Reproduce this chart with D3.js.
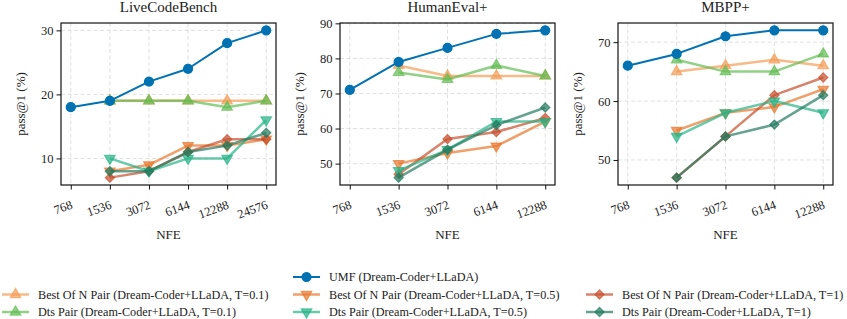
<!DOCTYPE html>
<html><head><meta charset="utf-8">
<script src="https://cdn.jsdelivr.net/npm/d3@7"></script>
<style>
html,body{margin:0;padding:0;background:#fff;}
</style></head>
<body>
<svg id="chart" width="847" height="319"></svg>
<script>
// ---------- DATA ----------
const panels = ["LiveCodeBench", "HumanEval+", "MBPP+"];
const nfeLCB = ["768", "1536", "3072", "6144", "12288", "24576"];
const nfeOther = ["768", "1536", "3072", "6144", "12288"];
const yTicksLCB = [10, 20, 30];
const yTicksHE = [50, 60, 70, 80, 90];
const yTicksMB = [50, 60, 70];

// LiveCodeBench (UMF starts at 768, pairs start at 1536)
const lcbUMF    = [18, 19, 22, 24, 28, 30];
const lcbBoN01  = [null, 19, 19, 19, 19, 19];
const lcbBoN05  = [null, 8, 9, 12, 12, 13];
const lcbBoN1   = [null, 7, 8, 11, 13, 13];
const lcbDts01  = [null, 19, 19, 19, 18, 19];
const lcbDts05  = [null, 10, 8, 10, 10, 16];
const lcbDts1   = [null, 8, 8, 11, 12, 14];

// HumanEval+
const heUMF    = [71, 79, 83, 87, 88];
const heBoN01  = [null, 78, 75, 75, 75];
const heBoN05  = [null, 50, 53, 55, 62];
const heBoN1   = [null, 47, 57, 59, 63];
const heDts01  = [null, 76, 74, 78, 75];
const heDts05  = [null, 48, 54, 62, 62];
const heDts1   = [null, 46, 54, 61, 66];

// MBPP+
const mbUMF    = [66, 68, 71, 72, 72];
const mbBoN01  = [null, 65, 66, 67, 66];
const mbBoN05  = [null, 55, 58, 59, 62];
const mbBoN1   = [null, 47, 54, 61, 64];
const mbDts01  = [null, 67, 65, 65, 68];
const mbDts05  = [null, 54, 58, 60, 58];
const mbDts1   = [null, 47, 54, 56, 61];

const seriesNames = [
  "Best Of N Pair (Dream-Coder+LLaDA, T=0.1)",
  "Best Of N Pair (Dream-Coder+LLaDA, T=0.5)",
  "Best Of N Pair (Dream-Coder+LLaDA, T=1)",
  "Dts Pair (Dream-Coder+LLaDA, T=0.1)",
  "Dts Pair (Dream-Coder+LLaDA, T=0.5)",
  "Dts Pair (Dream-Coder+LLaDA, T=1)",
  "UMF (Dream-Coder+LLaDA)"
];
const seriesColors = ["#F39C55", "#E8782E", "#C8502E", "#62BE52", "#27B386", "#237A5F", "#0072B2"];
const seriesMarkers = ["tri-up", "tri-down", "diamond", "tri-up", "tri-down", "diamond", "circle"];
const seriesAlpha = [0.7, 0.7, 0.7, 0.7, 0.7, 0.7, 1];

const panelData = [
  {title: panels[0], x: nfeLCB, yt: yTicksLCB, s: [lcbBoN01, lcbBoN05, lcbBoN1, lcbDts01, lcbDts05, lcbDts1, lcbUMF]},
  {title: panels[1], x: nfeOther, yt: yTicksHE, s: [heBoN01, heBoN05, heBoN1, heDts01, heDts05, heDts1, heUMF]},
  {title: panels[2], x: nfeOther, yt: yTicksMB, s: [mbBoN01, mbBoN05, mbBoN1, mbDts01, mbDts05, mbDts1, mbUMF]}
];

// ---------- LAYOUT ----------
const FONT = "'Liberation Serif', 'Times New Roman', Times, 'DejaVu Serif', serif";
const svg = d3.select("#chart").attr("font-family", FONT);
const plotLefts = [61, 340, 618];
const plotW = 215;
const plotTop = 23, plotBottom = 185;

function markerPath(type) {
  if (type === "circle") return d3.symbol(d3.symbolCircle, 64)();
  if (type === "tri-up") return d3.symbol(d3.symbolTriangle, 48)();
  if (type === "tri-down") return d3.symbol(d3.symbolTriangle, 48)();
  if (type === "diamond") return d3.symbol(d3.symbolSquare, 42)();
}
function markerRot(type) {
  if (type === "tri-down") return " rotate(180)";
  if (type === "diamond") return " rotate(45)";
  return "";
}

function drawMarker(g, type, color, alpha, x, y) {
  g.append("path")
    .attr("d", markerPath(type))
    .attr("transform", `translate(${x},${y})` + markerRot(type))
    .attr("fill", color).attr("fill-opacity", alpha)
    .attr("stroke", color).attr("stroke-opacity", alpha)
    .attr("stroke-width", 1.2);
}

function styleText(sel, size) {
  sel.attr("font-family", FONT).style("font-family", FONT).attr("font-size", size).attr("fill", "#222");
}

panelData.forEach((p, pi) => {
  const left = plotLefts[pi];
  const g = svg.append("g");
  const n = p.x.length;
  const x = d3.scaleLinear().domain([-0.05 * (n - 1), (n - 1) * 1.05]).range([left, left + plotW]);
  const all = p.s.flat().filter(v => v != null);
  const mn = d3.min(all), mx = d3.max(all), pad = (mx - mn) * 0.05;
  const y = d3.scaleLinear().domain([mn - pad, mx + pad]).range([plotBottom, plotTop]);

  // grid
  const grid = g.append("g").attr("stroke", "#dcdcdc").attr("stroke-width", 0.9).attr("stroke-dasharray", "4,2.5");
  p.x.forEach((_, i) => grid.append("line").attr("x1", x(i)).attr("x2", x(i)).attr("y1", plotTop).attr("y2", plotBottom));
  p.yt.forEach(t => grid.append("line").attr("x1", left).attr("x2", left + plotW).attr("y1", y(t)).attr("y2", y(t)));

  // series
  p.s.forEach((vals, si) => {
    const pts = vals.map((v, i) => [i, v]).filter(d => d[1] != null);
    const line = d3.line().x(d => x(d[0])).y(d => y(d[1]));
    const color = seriesColors[si], a = seriesAlpha[si];
    const sg = g.append("g");
    sg.append("path").attr("d", line(pts)).attr("fill", "none")
      .attr("stroke", color).attr("stroke-opacity", a)
      .attr("stroke-width", si === 6 ? 2 : 2.5).attr("stroke-linejoin", "round");
    pts.forEach(d => drawMarker(sg, seriesMarkers[si], color, a, x(d[0]), y(d[1])));
  });

  // axes
  const xa = d3.axisBottom(x).tickValues(d3.range(n)).tickFormat(i => p.x[i]).tickSize(4.5).tickPadding(3);
  const gx = g.append("g").attr("transform", `translate(0,${plotBottom})`).call(xa);
  gx.attr("font-family", FONT);
  gx.select(".domain").remove();
  gx.selectAll(".tick line").attr("stroke", "#111").attr("stroke-width", 1);
  styleText(gx.selectAll(".tick text"), 12.5);
  gx.selectAll(".tick text").attr("text-anchor", "end")
    .attr("y", 0).attr("dy", 0)
    .attr("transform", "translate(2,23) rotate(-20)");

  const ya = d3.axisLeft(y).tickValues(p.yt).tickSize(4.5).tickPadding(3);
  const gy = g.append("g").attr("transform", `translate(${left},0)`).call(ya);
  gy.attr("font-family", FONT);
  gy.select(".domain").remove();
  gy.selectAll(".tick line").attr("stroke", "#111").attr("stroke-width", 1);
  styleText(gy.selectAll(".tick text"), 12.5);

  // frame
  g.append("rect").attr("x", left).attr("y", plotTop).attr("width", plotW).attr("height", plotBottom - plotTop)
    .attr("fill", "none").attr("stroke", "#111").attr("stroke-width", 1.2);

  // labels
  styleText(g.append("text").attr("x", left + plotW / 2).attr("y", 12).attr("text-anchor", "middle").text(p.title), 15);
  styleText(g.append("text").attr("x", left + plotW / 2).attr("y", 239).attr("text-anchor", "middle").text("NFE"), 13);
  styleText(g.append("text").attr("transform", `translate(${left - 36},${(plotTop + plotBottom) / 2}) rotate(-90)`)
    .attr("text-anchor", "middle").text("pass@1 (%)"), 13);
});

// ---------- LEGEND ----------
const legendPos = [
  [2, 294.5], [293, 294.5], [586, 294.5],
  [2, 312], [293, 312], [586, 312],
  [293, 277]
];
const lg = svg.append("g");
seriesNames.forEach((name, si) => {
  const [lx, ly] = legendPos[si];
  const color = seriesColors[si], a = seriesAlpha[si];
  lg.append("line").attr("x1", lx).attr("x2", lx + 27).attr("y1", ly).attr("y2", ly)
    .attr("stroke", color).attr("stroke-opacity", a).attr("stroke-width", si === 6 ? 2 : 2.5);
  drawMarker(lg, seriesMarkers[si], color, a, lx + 13.5, ly);
  styleText(lg.append("text").attr("x", lx + 36).attr("y", ly + 4.3).text(name), 12.2);
});
</script>
</body></html>
